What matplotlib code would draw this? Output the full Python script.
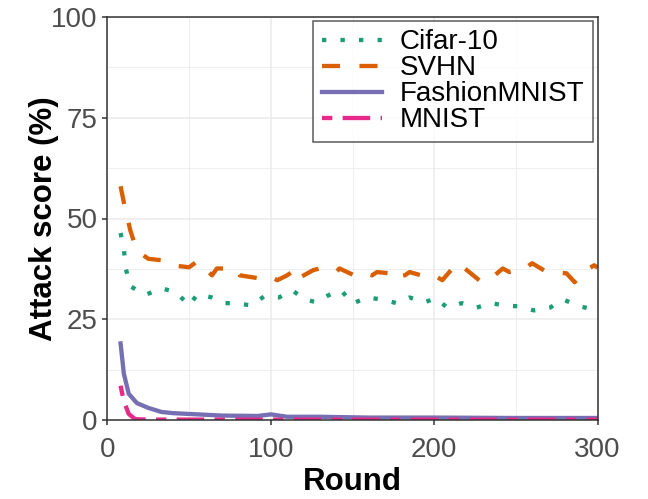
import matplotlib
matplotlib.use("Agg")
import matplotlib.pyplot as plt
from matplotlib.ticker import MultipleLocator

plt.rcParams["font.family"] = ["Liberation Sans", "DejaVu Sans"]

# Attack score per round
cifar_x = [8, 10, 11, 14, 23, 33, 42, 50, 55, 64, 72, 79, 88, 96, 105, 113, 121, 128, 135,
           143, 150, 159, 168, 177, 185, 194, 201, 208, 217, 226, 235, 243, 252, 261, 271,
           279, 289, 298, 300]
cifar_y = [46.4, 42.6, 37.9, 33.2, 31.0, 32.7, 31.7, 28.4, 31.2, 30.4, 29.0, 29.0, 28.4, 30.7,
           30.4, 32.2, 29.9, 29.2, 30.9, 32.2, 28.9, 30.4, 29.9, 29.0, 30.4, 29.2, 30.2,
           27.9, 29.0, 27.9, 29.0, 28.4, 28.2, 27.2, 27.9, 29.9, 28.2, 27.4, 27.6]

svhn_x = [8, 10, 14, 18, 25, 34, 39, 50, 55, 64, 67, 78, 81, 92, 98, 104, 110, 116, 118,
          126, 130, 140, 142, 151, 154, 162, 165, 173, 174, 182, 185, 192, 195, 200, 205,
          214, 220, 229, 235, 242, 246, 254, 260, 269, 272, 281, 286, 293, 298, 300]
svhn_y = [58.0, 54.0, 47.0, 42.0, 40.0, 39.6, 38.4, 37.9, 39.4, 35.9, 37.6, 37.6, 35.9, 35.2,
          35.9, 34.7, 35.9, 37.6, 35.4, 37.2, 37.6, 36.7, 37.6, 35.9, 36.7, 35.9, 36.7,
          36.4, 35.2, 35.9, 36.7, 35.9, 35.4, 35.9, 34.7, 38.9, 37.2, 34.2, 35.2, 37.6,
          36.7, 37.2, 38.9, 36.7, 36.7, 36.4, 34.2, 37.2, 38.4, 37.8]

fmnist_x = [8, 10, 13, 18, 25, 33, 40, 50, 70, 92, 100, 110, 130, 160, 200, 250, 300]
fmnist_y = [19.0, 11.5, 6.5, 4.2, 3.0, 2.0, 1.7, 1.5, 1.1, 1.0, 1.4, 0.8, 0.8, 0.6, 0.6, 0.5, 0.5]

mnist_x = [8, 10, 13, 17, 25, 50, 100, 150, 200, 250, 300]
mnist_y = [8.5, 4.7, 1.5, 0.2, 0.1, 0.1, 0.1, 0.1, 0.1, 0.1, 0.1]

GREEN, ORANGE, PURPLE, PINK = "#1B9E77", "#D95F02", "#7570B3", "#E7298A"
GRID = "#EBEBEB"

fig = plt.figure(figsize=(6.48, 4.99), dpi=100)
ax = fig.add_axes([107.5 / 648, 1 - 420 / 499, 490 / 648, 403 / 499])

lw = 3.1
ax.plot(cifar_x, cifar_y, color=GREEN, lw=lw, linestyle=(0, (1, 3.3)),
        dash_capstyle="butt", label="Cifar-10")
ax.plot(svhn_x, svhn_y, color=ORANGE, lw=lw, linestyle=(0, (4.2, 4.5)),
        dash_capstyle="butt", label="SVHN")
ax.plot(fmnist_x, fmnist_y, color=PURPLE, lw=lw, label="FashionMNIST")
ax.plot(mnist_x, mnist_y, color=PINK, lw=lw, linestyle=(0, (2.4, 2.4, 6.4, 2.4)),
        dash_capstyle="butt", label="MNIST")

ax.set_xlim(0, 300)
ax.set_ylim(0, 100)
ax.xaxis.set_major_locator(MultipleLocator(100))
ax.xaxis.set_minor_locator(MultipleLocator(50))
ax.yaxis.set_major_locator(MultipleLocator(25))
ax.yaxis.set_minor_locator(MultipleLocator(12.5))
ax.grid(True, which="major", color=GRID, lw=1.1)
ax.grid(True, which="minor", color=GRID, lw=0.6)
ax.set_axisbelow(True)
for s in ax.spines.values():
    s.set_color("#333333")
    s.set_linewidth(1.1)
ax.tick_params(which="major", labelsize=20, colors="#333333", labelcolor="#4D4D4D",
               length=3.5, width=1.1)
ax.tick_params(axis="x", which="major", pad=8.5)
ax.tick_params(axis="y", which="major", pad=3.6)
ax.tick_params(which="minor", length=0)

ax.set_xlabel("Round", fontsize=22.5, fontweight="bold", labelpad=3)
ax.set_ylabel("Attack score (%)", fontsize=22.5, fontweight="bold")
ax.yaxis.set_label_coords(-0.0998, 0.5)

leg = ax.legend(loc="upper right", bbox_to_anchor=(0.99, 0.99), fontsize=20,
                frameon=True, fancybox=False, handlelength=2.16, handletextpad=0.65,
                borderpad=0.3, labelspacing=0.0, borderaxespad=0)
leg.get_frame().set_edgecolor("#333333")
leg.get_frame().set_linewidth(1.1)

fig.savefig("out.png", dpi=100, facecolor="white")
